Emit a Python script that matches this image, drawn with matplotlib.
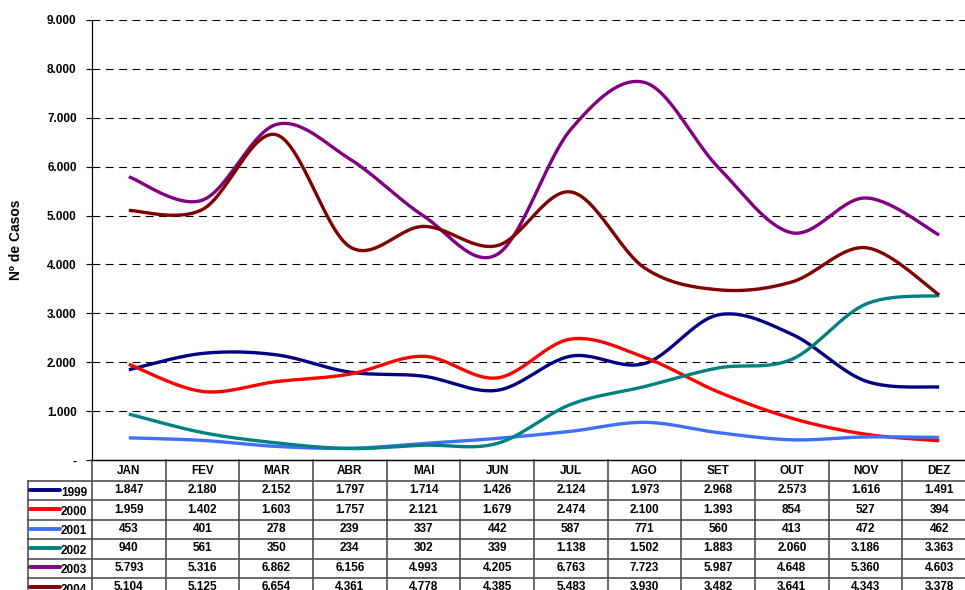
import numpy as np
import matplotlib
matplotlib.use("Agg")
import matplotlib.pyplot as plt

plt.rcParams['font.family'] = ['Liberation Sans', 'DejaVu Sans']

months = ["JAN", "FEV", "MAR", "ABR", "MAI", "JUN", "JUL", "AGO", "SET", "OUT", "NOV", "DEZ"]
years = ["1999", "2000", "2001", "2002", "2003", "2004"]
v1999 = [1847, 2180, 2152, 1797, 1714, 1426, 2124, 1973, 2968, 2573, 1616, 1491]
v2000 = [1959, 1402, 1603, 1757, 2121, 1679, 2474, 2100, 1393, 854, 527, 394]
v2001 = [453, 401, 278, 239, 337, 442, 587, 771, 560, 413, 472, 462]
v2002 = [940, 561, 350, 234, 302, 339, 1138, 1502, 1883, 2060, 3186, 3363]
v2003 = [5793, 5316, 6862, 6156, 4993, 4205, 6763, 7723, 5987, 4648, 5360, 4603]
v2004 = [5104, 5125, 6654, 4361, 4778, 4385, 5483, 3930, 3482, 3641, 4343, 3378]
series = [v1999, v2000, v2001, v2002, v2003, v2004]
colors = ["#000080", "#FF0000", "#3F6FFF", "#008080", "#800080", "#800000"]
yticks = [0, 1000, 2000, 3000, 4000, 5000, 6000, 7000, 8000, 9000]


def fmt(v):
    return "-" if v == 0 else f"{v:,}".replace(",", ".")


def smooth(xs, ys, n=30):
    xs = np.asarray(xs, float)
    ys = np.asarray(ys, float)
    px = np.concatenate([[xs[0]], xs, [xs[-1]]])
    py = np.concatenate([[ys[0]], ys, [ys[-1]]])
    outx, outy = [], []
    t = np.linspace(0, 1, n)
    for i in range(1, len(px) - 2):
        p0 = np.array([px[i], py[i]])
        p3 = np.array([px[i + 1], py[i + 1]])
        c1 = p0 + (np.array([px[i + 1], py[i + 1]]) - np.array([px[i - 1], py[i - 1]])) / 6
        c2 = p3 - (np.array([px[i + 2], py[i + 2]]) - np.array([px[i], py[i]])) / 6
        b = ((1 - t) ** 3)[:, None] * p0 + (3 * (1 - t) ** 2 * t)[:, None] * c1 + \
            (3 * (1 - t) * t ** 2)[:, None] * c2 + (t ** 3)[:, None] * p3
        outx.extend(b[:, 0])
        outy.extend(b[:, 1])
    return outx, outy


W, H = 965, 590
fig = plt.figure(figsize=(W / 100, H / 100), dpi=100)

left_px, right_px, top_px, bot_px = 92, 976, 20, 460
ax = fig.add_axes([left_px / W, (H - bot_px) / H, (right_px - left_px) / W, (bot_px - top_px) / H])
ax.set_xlim(-0.5, 11.5)
ax.set_ylim(0, 9000)
x = np.arange(len(months))
for vals, c in zip(series, colors):
    sx, sy = smooth(x, vals)
    ax.plot(sx, sy, color=c, lw=2.4, solid_capstyle='butt', zorder=3)

ax.set_yticks(yticks)
ax.set_yticklabels([fmt(v) for v in yticks], fontsize=8.5, fontweight='bold')
ax.tick_params(axis='y', length=4, width=0.8, pad=7)
ax.set_xticks([])
for v in yticks[1:]:
    ax.axhline(v, color='black', lw=0.8, ls=(0, (7, 5)), zorder=1)
for s in ['top', 'right']:
    ax.spines[s].set_visible(False)
ax.spines['left'].set_linewidth(0.9)
ax.spines['bottom'].set_linewidth(0.9)
ax.set_ylabel("Nº de Casos", fontsize=10, fontweight='bold')
ax.yaxis.set_label_coords(-(left_px - 23) / (right_px - left_px), 0.5)

# Table
tab = fig.add_axes([left_px / W, 0, (right_px - left_px) / W, (H - bot_px) / H])
tab.set_xlim(-0.5, 11.5)
tab.set_ylim(0, H - bot_px)
tab.axis('off')
top = H - bot_px
borders = [top, 109, 89.6, 70.2, 50.8, 31.4, 12, -7.4]
colpx = (right_px - left_px) / 12.0
lab_left = -0.5 - (left_px - 28) / colpx
lc = '#505050'
lw = 1.2
for k in range(13):
    tab.plot([-0.5 + k, -0.5 + k], [top, -10], color=lc, lw=lw, clip_on=False)
tab.plot([lab_left, lab_left], [borders[1], -10], color=lc, lw=lw, clip_on=False)
tab.plot([-0.5, 11.5], [top, top], color='black', lw=0.9, clip_on=False)
for b in borders[1:]:
    tab.plot([lab_left, 11.5], [b, b], color=lc, lw=lw, clip_on=False)

hc = (borders[0] + borders[1]) / 2
for i, m in enumerate(months):
    tab.text(i, hc, m, ha='center', va='center', fontsize=8.5, fontweight='bold', clip_on=False)

for r, (yr, vals, c) in enumerate(zip(years, series, colors)):
    cy = (borders[r + 1] + borders[r + 2]) / 2
    for i, v in enumerate(vals):
        tab.text(i, cy + 0.5, fmt(v), ha='center', va='center', fontsize=8.5, fontweight='bold', clip_on=False)
    x0 = lab_left + 2 / colpx
    x1 = lab_left + 32 / colpx
    tab.plot([x0, x1], [cy + 1, cy + 1], color=c, lw=2.8, solid_capstyle='round', clip_on=False)
    tab.text(x1 + 1 / colpx, cy - 2, yr, ha='left', va='center', fontsize=8.5, fontweight='bold', clip_on=False)

fig.savefig("out.png", dpi=100)
